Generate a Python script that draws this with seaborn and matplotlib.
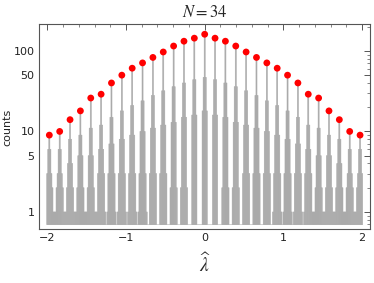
import numpy as np
import pandas as pd
import matplotlib
matplotlib.use("Agg")
import matplotlib.pyplot as plt
import matplotlib.ticker as mticker
import seaborn as sns

# ---- data ----
peak_first = -1.975
peak_last = 1.975
peak_counts = [9, 10, 14, 18, 26, 29, 40, 50, 61, 71, 83, 97, 115, 132, 144, 161,
               144, 132, 115, 97, 83, 71, 61, 50, 40, 29, 26, 18, 14, 10, 9]
# counts in the fine bins next to each peak (offset 1, 2, 3, 4 bins, both sides)
tail1 = [6, 6, 8, 9, 11, 12, 15, 18, 21, 24, 28, 32, 36, 40, 44, 47,
         44, 40, 36, 32, 28, 24, 21, 18, 15, 12, 11, 9, 8, 6, 6]
tail2 = [3, 3, 4, 5, 5, 6, 7, 8, 9, 10, 11, 12, 13, 15, 16, 18,
         16, 15, 13, 12, 11, 10, 9, 8, 7, 6, 5, 5, 4, 3, 3]
tail3 = [2, 2, 2, 2, 2, 3, 3, 3, 3, 3, 3, 3, 2, 2, 0, 0,
         0, 2, 2, 3, 3, 3, 3, 3, 3, 3, 2, 2, 2, 2, 2]
tail4 = [1, 1, 1, 1, 1, 1, 1, 1, 1, 1, 0, 0, 0, 0, 0, 0,
         0, 0, 0, 0, 0, 0, 1, 1, 1, 1, 1, 1, 1, 1, 1]
# count in the bin half way between neighbouring peaks
mid = [1, 1, 1, 1, 1, 0, 0, 0, 0, 0, 0, 0, 0, 0, 0,
       0, 0, 0, 0, 0, 0, 0, 0, 0, 0, 1, 1, 1, 1, 1]

x_ticks = [-2, -1, 0, 1, 2]
x_ticklabels = ["\u22122", "\u22121", "0", "1", "2"]
y_ticks = [1, 5, 10, 50, 100]
y_ticklabels = ["1", "5", "10", "50", "100"]

# ---- build fine histogram table ----
n_peaks = len(peak_counts)
peak_x = np.linspace(peak_first, peak_last, n_peaks)
sub = 10                                   # fine bins per peak spacing
w = (peak_last - peak_first) / (n_peaks - 1) / sub
centers, weights = [], []
tails = [tail1, tail2, tail3, tail4]
for i in range(n_peaks):
    centers.append(float(peak_x[i])); weights.append(peak_counts[i])
    for o in range(1, 5):
        c = tails[o - 1][i]
        for s in (-1, 1):
            xc = float(peak_x[i] + s * o * w)
            if c > 0 and -2.01 < xc < 2.01:
                centers.append(xc); weights.append(c)
    if i < n_peaks - 1 and mid[i] > 0:
        centers.append(float(peak_x[i] + 5 * w)); weights.append(mid[i])
df = pd.DataFrame({"x": centers, "n": weights})
edges = [float(v) for v in peak_first + (np.arange(-2, (n_peaks - 1) * sub + 4) - 0.5) * w]
dots = pd.DataFrame({"x": peak_x, "n": peak_counts})

# ---- figure ----
sns.set_style("white")
plt.rcParams["font.family"] = ["DejaVu Sans"]
plt.rcParams["mathtext.fontset"] = "stix"

fig = plt.figure(figsize=(3.74, 2.83), dpi=100)
ax = fig.add_axes([0.1035, 0.192, 0.8855, 0.7215])

bar_col = "#aaaaaa"
sns.histplot(data=df, x="x", weights="n", bins=edges, ax=ax, stat="count",
             color=bar_col, edgecolor=bar_col, linewidth=0.4, alpha=1)
ax.set_yscale("log")
base = 0.695
for p in ax.patches:
    h = p.get_height()
    p.set_y(base)
    p.set_height(max(h - base, 0))
    p.set_snap(False)

sns.scatterplot(data=dots, x="x", y="n", ax=ax, color="#ff0000", s=24,
                edgecolor="none", zorder=5, legend=False)

ax.set_xlim(-2.11, 2.1)
ax.set_ylim(0.62, 213)

frame_col = "#555555"
for sp in ax.spines.values():
    sp.set_color(frame_col)
    sp.set_linewidth(0.8)

ax.xaxis.set_major_locator(mticker.FixedLocator(x_ticks))
ax.xaxis.set_major_formatter(mticker.FixedFormatter(x_ticklabels))
ax.xaxis.set_minor_locator(mticker.MultipleLocator(0.2))
ax.yaxis.set_major_locator(mticker.FixedLocator(y_ticks))
ax.yaxis.set_major_formatter(mticker.FixedFormatter(y_ticklabels))
ax.yaxis.set_minor_locator(mticker.LogLocator(base=10, subs=np.arange(1, 10), numticks=20))
ax.yaxis.set_minor_formatter(mticker.NullFormatter())

ax.tick_params(which="both", direction="in", top=True, right=True,
               color=frame_col, labelcolor="#222222", labelsize=8)
ax.tick_params(which="major", length=4, width=0.7, pad=3)
ax.tick_params(which="minor", length=2.2, width=0.5)

ax.set_xlabel(""); ax.set_ylabel("")
fig.text(205 / 374, 1 - 12 / 283, r"$N=34$", ha="center", va="center", fontsize=12)
fig.text(205 / 374, 1 - 264 / 283, r"$\widehat{\lambda}$", ha="center", va="center", fontsize=14)
fig.text(7 / 374, 1 - 127 / 283, "counts", rotation=90, ha="center", va="center",
         fontsize=8, color="#222222")

fig.savefig("out.png", dpi=100)
